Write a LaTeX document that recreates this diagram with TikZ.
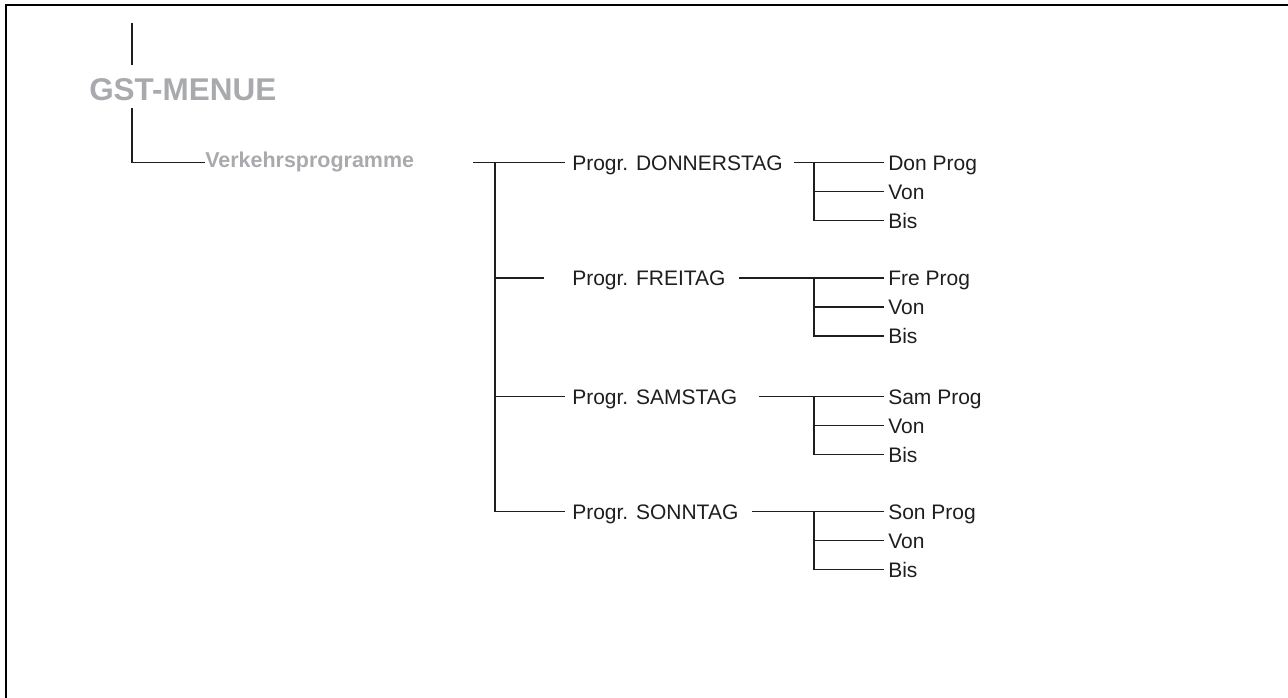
\documentclass[tikz,border=0pt]{standalone}
\usepackage{fontspec}
\setmainfont{Liberation Sans}
\definecolor{menugray}{RGB}{168,170,173}
\definecolor{itemblack}{RGB}{30,30,30}
\tikzset{
  frame/.style={line width=1.9pt, line cap=rect},
  conn/.style={line width=1.25pt, draw=itemblack},
  title/.style={inner sep=0pt, anchor=base west, text=menugray, font=\bfseries\fontsize{23.6}{28}\selectfont},
  subtitle/.style={inner sep=0pt, anchor=base west, text=menugray, font=\bfseries\fontsize{16.1}{19}\selectfont},
  item/.style={inner sep=0pt, anchor=base west, text=itemblack, font=\fontsize{15.75}{19}\selectfont},
}
\begin{document}
\begin{tikzpicture}[x=0.75pt,y=-0.75pt]
\useasboundingbox (0,0) rectangle (1288,697);
% frame
\coordinate (fbl) at (6,697);
\coordinate (ftl) at (6,5);
\coordinate (ftr) at (1288,5);
\draw[frame] (fbl) -- (ftl) -- (ftr);

% root
\node[title] (gst) at (89,100) {GST-MENUE};
\coordinate (gtop) at (132,23);
\coordinate (gtopend) at (132,65);
\draw[conn] (gtop) -- (gtopend);

\node[subtitle] (vp) at (205,167.2) {Verkehrsprogramme};
\coordinate (gbot) at (132,108);
\coordinate (gcorner) at (132,162.6);
\draw[conn] (gbot) -- (gcorner) -- (gcorner -| vp.west);

% trunk
\coordinate (j0) at (473,162.5);
\coordinate (ttop) at (495,162.5);
\coordinate (tbot) at (495,511.5);
\draw[conn] (ttop) -- (tbot);

\foreach \n/\y/\be/\ls/\lab/\sh in {
  don/162.5/565/794/DONNERSTAG/Don,
  fre/278/544/739/FREITAG/Fre,
  sam/396.5/565/759/SAMSTAG/Sam,
  son/511.5/565/752/SONNTAG/Son}{
  \node[item] (\n) at (572,\y+7.5) {Progr. \lab};
  \coordinate (\n-br) at (495,\y);
  \coordinate (\n-be) at (\be,\y);
  \coordinate (\n-ls) at (\ls,\y);
  \coordinate (\n-j) at (814,\y);
  \coordinate (\n-jv) at (814,\y+29);
  \coordinate (\n-jb) at (814,\y+58);
  \coordinate (\n-e) at (884,\y);
  \node[item] (\n-p) at (888,\y+7.5) {\sh\ Prog};
  \node[item] (\n-v) at (888,\y+36.5) {Von};
  \node[item] (\n-b) at (888,\y+65.5) {Bis};
  \draw[conn] (\n-br) -- (\n-be);
  \draw[conn] (\n-ls) -- (\n-e);
  \draw[conn] (\n-j) -- (\n-jb) -- (\n-jb -| \n-e);
  \draw[conn] (\n-jv) -- (\n-jv -| \n-e);
}
\draw[conn] (j0) -- (ttop);
\end{tikzpicture}
\end{document}
